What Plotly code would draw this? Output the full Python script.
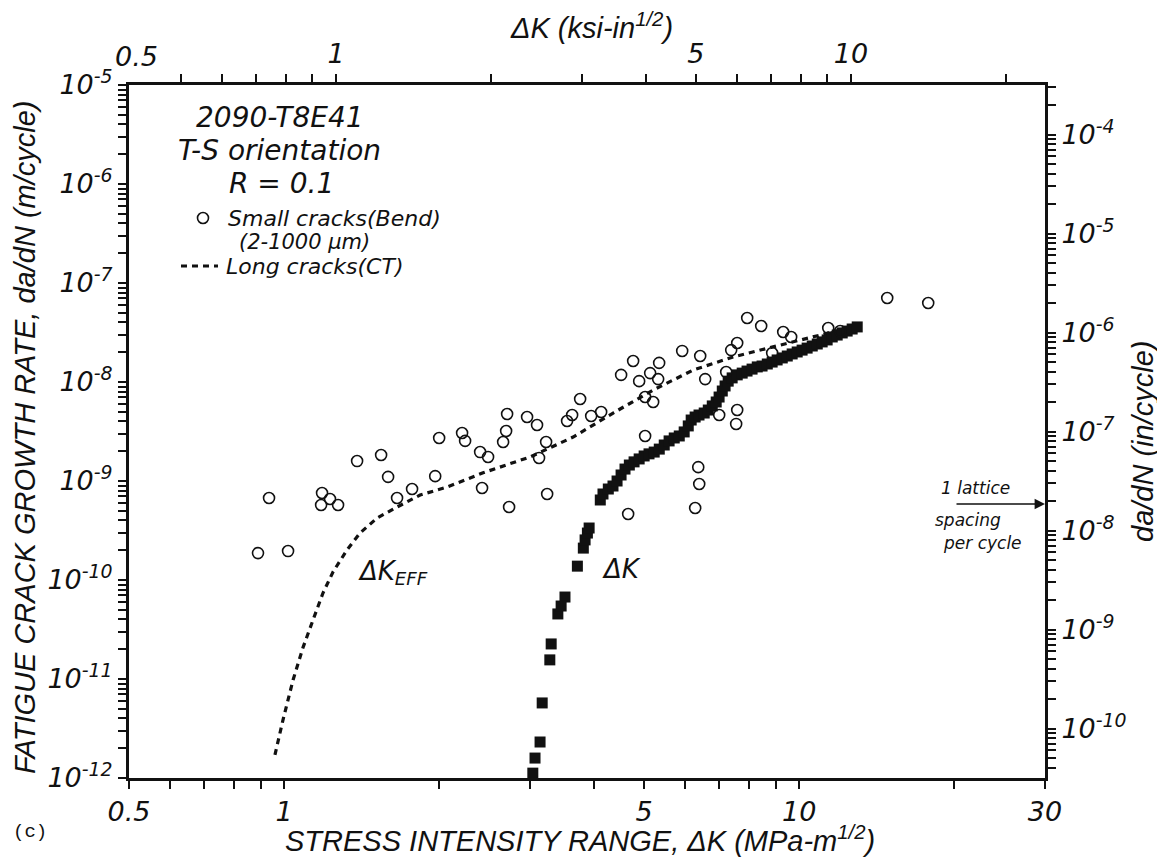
import plotly.graph_objects as go
import math

# ---------------- data ----------------
# small cracks (bend), open circles: dK [MPa m^1/2], da/dN [m/cycle]
small_dk = [0.890, 1.018, 0.935, 1.185, 1.180, 1.228, 1.273, 1.386, 1.543, 1.592,
            1.657, 1.772, 2.000, 1.965, 2.216, 2.246, 2.402, 2.423, 2.489, 2.710,
            2.698, 2.662, 2.734, 2.963, 3.098, 3.226, 3.126, 3.241, 3.756, 3.624,
            3.543, 3.946, 4.126, 4.511, 4.760, 4.890, 5.136, 5.347, 5.323, 5.022,
            5.206, 5.022, 4.655, 5.927, 6.424, 6.569, 7.215, 7.378, 7.579, 6.993,
            7.579, 7.544, 6.368, 6.396, 6.281, 7.925, 8.437, 9.309, 9.647, 8.861,
            11.385, 14.82, 17.80, 12.01]
small_rate = [1.87e-10, 1.96e-10, 6.73e-10, 7.56e-10, 5.72e-10, 6.58e-10, 5.72e-10, 1.59e-9, 1.83e-9, 1.10e-9,
              6.73e-10, 8.30e-10, 2.72e-9, 1.12e-9, 3.05e-9, 2.54e-9, 1.96e-9, 8.50e-10, 1.75e-9, 4.75e-9,
              3.20e-9, 2.48e-9, 5.46e-10, 4.43e-9, 3.68e-9, 2.48e-9, 1.71e-9, 7.39e-10, 6.73e-9, 4.64e-9,
              4.04e-9, 4.54e-9, 4.98e-9, 1.18e-8, 1.63e-8, 1.02e-8, 1.23e-8, 1.56e-8, 1.07e-8, 7.05e-9,
              6.28e-9, 2.85e-9, 4.64e-10, 2.06e-8, 1.83e-8, 1.07e-8, 1.26e-8, 2.10e-8, 2.48e-8, 4.64e-9,
              5.21e-9, 3.77e-9, 1.38e-9, 9.33e-10, 5.33e-10, 4.43e-8, 3.68e-8, 3.20e-8, 2.85e-8, 1.96e-8,
              3.51e-8, 7.05e-8, 6.28e-8, 3.27e-8]

# long cracks (CT) vs applied dK, filled squares
long_dk = [3.04, 3.07, 3.14, 3.17, 3.28, 3.30, 3.40, 3.45, 3.51, 3.71,
           3.81, 3.84, 3.88, 3.91, 4.11, 4.16,
           4.26, 4.35, 4.43, 4.51, 4.59, 4.68, 4.78, 4.89, 5.00, 5.11,
           5.23, 5.35, 5.47, 5.59, 5.72, 5.85, 5.98, 6.09, 6.17, 6.28,
           6.39, 6.54, 6.66, 6.78, 6.90, 6.99, 7.09, 7.18, 7.28, 7.41,
           7.58, 7.75, 7.92, 8.10, 8.29, 8.47, 8.67, 8.86, 9.06, 9.27,
           9.48, 9.69, 9.91, 10.13, 10.36, 10.60, 10.84, 11.08, 11.33, 11.59,
           11.85, 12.12, 12.39, 12.67, 12.96]
long_rate = [1.12e-12, 1.59e-12, 2.31e-12, 5.73e-12, 1.56e-11, 2.26e-11, 4.54e-11, 5.46e-11, 6.73e-11, 1.38e-10,
             2.10e-10, 2.54e-10, 2.98e-10, 3.35e-10, 6.43e-10, 7.39e-10,
             8.30e-10, 8.90e-10, 1.00e-9, 1.15e-9, 1.32e-9, 1.45e-9, 1.56e-9, 1.67e-9, 1.79e-9, 1.88e-9,
             1.96e-9, 2.10e-9, 2.31e-9, 2.54e-9, 2.72e-9, 2.85e-9, 3.13e-9, 3.60e-9, 4.13e-9, 4.43e-9,
             4.64e-9, 4.86e-9, 5.21e-9, 5.73e-9, 6.28e-9, 7.05e-9, 8.11e-9, 9.12e-9, 1.02e-8, 1.10e-8,
             1.18e-8, 1.23e-8, 1.29e-8, 1.35e-8, 1.42e-8, 1.45e-8, 1.52e-8, 1.59e-8, 1.67e-8, 1.75e-8,
             1.83e-8, 1.92e-8, 2.01e-8, 2.10e-8, 2.20e-8, 2.31e-8, 2.42e-8, 2.54e-8, 2.66e-8, 2.85e-8,
             2.98e-8, 3.13e-8, 3.27e-8, 3.43e-8, 3.60e-8]

# long cracks (CT) vs dK_eff, dashed curve
eff_dk = [0.960, 0.995, 1.041, 1.089, 1.138, 1.190, 1.245, 1.325, 1.404, 1.516,
          1.657, 1.837, 2.073, 2.434, 3.003, 3.640, 4.353, 5.206, 6.225, 7.443,
          9.185, 10.41, 12.01]
eff_rate = [1.71e-12, 3.85e-12, 9.77e-12, 2.10e-11, 3.94e-11, 7.39e-11, 1.21e-10, 2.01e-10, 2.98e-10, 4.23e-10,
            5.46e-10, 7.22e-10, 8.69e-10, 1.21e-9, 1.75e-9, 2.78e-9, 4.86e-9, 8.30e-9, 1.32e-8, 1.79e-8,
            2.36e-8, 2.78e-8, 3.35e-8]

# axis ticks
x_major = [0.5, 1, 5, 10, 30]
x_major_text = ["0.5", "1", "5", "10", "30"]
x_minor = [0.6, 0.7, 0.8, 0.9, 2, 3, 4, 6, 7, 8, 9, 20]
ksi_major = [1, 5, 10]
ksi_major_text = ["1", "5", "10"]
ksi_minor = [0.5, 0.6, 0.7, 0.8, 0.9, 2, 3, 4, 6, 7, 8, 9, 20]
m_decades = [-12, -11, -10, -9, -8, -7, -6, -5]
in_decades = [-10, -9, -8, -7, -6, -5, -4]

# ---------------- figure ----------------
INK = "#111111"
TICKFONT = dict(family="DejaVu Sans", size=27, color=INK, style="italic")

y_range = [-12, -5]
y2_range = [-10.5, -3.5]

def minor_vals(lo, hi):
    out = []
    for d in range(int(math.floor(lo)) - 1, int(math.ceil(hi)) + 1):
        for m in range(2, 10):
            v = m * 10.0 ** d
            if lo <= math.log10(v) <= hi:
                out.append(v)
    return out

fig = go.Figure()
fig.add_trace(go.Scatter(
    x=eff_dk, y=eff_rate, mode="lines", name="Long cracks(CT)",
    line=dict(color=INK, width=3.2, dash="6px,5px"), showlegend=False))
fig.add_trace(go.Scatter(
    x=long_dk, y=long_rate, mode="markers", name="Long cracks, ΔK",
    marker=dict(symbol="square", size=11, color=INK, line=dict(width=0)),
    showlegend=False))
fig.add_trace(go.Scatter(
    x=small_dk, y=small_rate, mode="markers", name="Small cracks(Bend)",
    marker=dict(symbol="circle-open", size=11, color=INK, line=dict(width=1.6, color=INK)),
    showlegend=False))
# empty trace that carries the secondary (ksi-in^1/2, in/cycle) axes
fig.add_trace(go.Scatter(x=[], y=[], xaxis="x2", yaxis="y2", mode="markers",
                         showlegend=False, hoverinfo="skip"))

MINOR = dict(ticks="outside", ticklen=8, tickwidth=1.6, tickcolor=INK, showgrid=False)
axis_common = dict(type="log", showgrid=False, zeroline=False, showline=True,
                   linecolor=INK, linewidth=3, ticks="outside", ticklen=8,
                   tickwidth=1.6, tickcolor=INK, tickfont=TICKFONT, tickmode="array")

# the page body adds an 8 px offset; the figure is sized so the plot box
# lands at x 129..1045, y 85..778 of the 1165x858 window
fig.update_layout(
    width=1157, height=850, autosize=False,
    margin=dict(l=121, r=120, t=77, b=80),
    paper_bgcolor="white", plot_bgcolor="white",
    font=dict(family="DejaVu Sans", color=INK, style="italic"),
    xaxis=dict(axis_common, range=[math.log10(0.5), math.log10(30)],
               tickvals=x_major, ticktext=x_major_text,
               minor=dict(MINOR, tickmode="array", tickvals=x_minor)),
    xaxis2=dict(axis_common, overlaying="x", side="top", anchor="y",
                range=[-0.402, 1.377],
                tickvals=ksi_major, ticktext=ksi_major_text,
                minor=dict(MINOR, tickmode="array", tickvals=ksi_minor)),
    yaxis=dict(axis_common, range=y_range,
               tickvals=[10.0 ** d for d in m_decades],
               ticktext=[f"10<sup>{d}</sup>" for d in m_decades],
               minor=dict(MINOR, tickmode="array", tickvals=minor_vals(*y_range))),
    yaxis2=dict(axis_common, overlaying="y", side="right", anchor="x",
                range=y2_range,
                tickvals=[10.0 ** d for d in in_decades],
                ticktext=[f"10<sup>{d}</sup>" for d in in_decades],
                minor=dict(MINOR, tickmode="array", tickvals=minor_vals(*y2_range))),
    showlegend=False,
)

PL, PR, PT, PB = 129, 1045, 85, 778
def px(x):
    return (x - PL) / (PR - PL)
def py(y):
    return (PB - y) / (PB - PT)

def note(text, x, y, size=26, family="DejaVu Sans", xanchor="center", angle=0, style="italic"):
    fig.add_annotation(text=text, x=px(x), y=py(y), xref="paper", yref="paper",
                       showarrow=False, xanchor=xanchor, yanchor="middle", textangle=angle,
                       font=dict(family=family, size=size, color=INK, style=style))

# axis titles
note("STRESS INTENSITY RANGE, ΔK (MPa-m<sup>1/2</sup>)", 580, 839, size=29, family="Liberation Sans")
note("FATIGUE CRACK GROWTH RATE, da/dN (m/cycle)", 25, 437, size=29, family="Liberation Sans", angle=-90)
note("da/dN (in/cycle)", 1143, 442, size=29, family="Liberation Sans", angle=-90)
note("ΔK (ksi-in<sup>1/2</sup>)", 591, 26, size=29, family="Liberation Sans")
note("0.5", 136, 56, size=27)
note("(c)", 30, 832, size=19, family="Liberation Mono", style="normal")

# inset text
note("2090-T8E41", 280, 117, size=28)
note("T-S orientation", 279, 150, size=28)
note("R = 0.1", 281, 183, size=28)
note("Small cracks(Bend)", 226, 218, size=22, xanchor="left")
note("(2-1000 μm)", 237, 242, size=21, xanchor="left")
note("Long cracks(CT)", 224, 266, size=22, xanchor="left")
note("ΔK<sub>EFF</sub>", 356, 572, size=26, xanchor="left")
note("ΔK", 600, 569, size=26, xanchor="left")
note("1 lattice", 975, 488, size=17)
note("spacing", 968, 520, size=17)
note("per cycle", 982, 543, size=17)

# legend glyphs
fig.add_shape(type="circle", xref="paper", yref="paper", xsizemode="pixel", ysizemode="pixel",
              xanchor=px(203), yanchor=py(218), x0=-5.5, x1=5.5, y0=-5.5, y1=5.5,
              line=dict(color=INK, width=1.6))
fig.add_shape(type="line", xref="paper", yref="paper", x0=px(181), x1=px(218), y0=py(266), y1=py(266),
              line=dict(color=INK, width=3.2, dash="6px,5px"))

# lattice spacing arrow
fig.add_annotation(x=px(1045), y=py(504), xref="paper", yref="paper", ax=-90, ay=0,
                   text="", showarrow=True, arrowhead=2, arrowsize=1.3, arrowwidth=1.6,
                   arrowcolor=INK)

fig.write_html("out.html")
